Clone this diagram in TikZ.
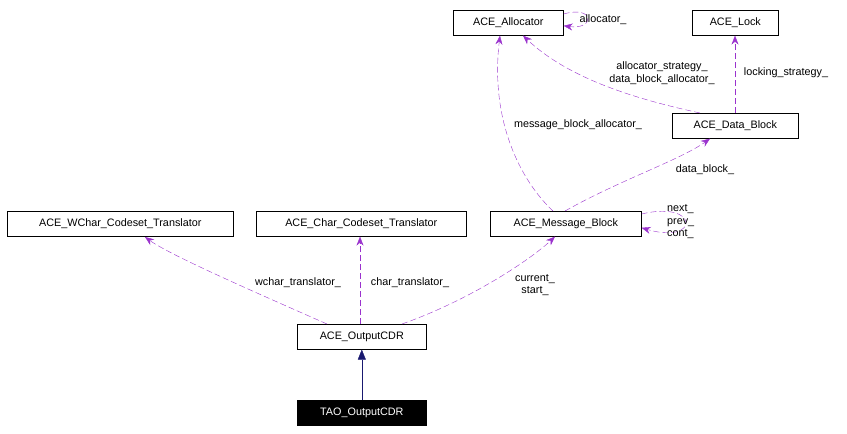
\documentclass[tikz,border=0pt]{standalone}
\usepackage{fontspec}
\setmainfont{Liberation Sans}
\usetikzlibrary{arrows.meta}
\begin{document}
\begin{tikzpicture}[x=1pt,y=-1pt,font=\fontsize{10.8}{12.5}\selectfont,
  box/.style={draw,semithick,minimum height=25pt,inner sep=0pt,anchor=north west},
  use/.style={draw={rgb,255:red,154;green,50;blue,205},dash pattern=on 6pt off 3pt,-{Stealth[length=9pt,width=7pt]},thin},
  inh/.style={draw={rgb,255:red,25;green,25;blue,112},-{Triangle[length=10pt,width=8pt,fill={rgb,255:red,25;green,25;blue,112}]}},
  lab/.style={inner sep=0pt,align=center}]
\useasboundingbox (0,0) rectangle (847,434);
\node[box,minimum width=110pt] (alloc) at (453,10) {ACE\_Allocator};
\node[box,minimum width=86pt] (lock) at (692,10) {ACE\_Lock};
\node[box,minimum width=126pt] (db) at (672,113) {ACE\_Data\_Block};
\node[box,minimum width=226pt] (wc) at (7,211) {ACE\_WChar\_Codeset\_Translator};
\node[box,minimum width=210pt] (cc) at (256,211) {ACE\_Char\_Codeset\_Translator};
\node[box,minimum width=151pt] (mb) at (490,211) {ACE\_Message\_Block};
\node[box,minimum width=129pt] (oc) at (297,324) {ACE\_OutputCDR};
\node[box,minimum width=129pt,fill=black,text=white] (tao) at (297,400) {TAO\_OutputCDR};

\draw[inh] (tao) -- (oc);
\draw[use] (oc.north west) ++(30,0) coordinate (a1) .. controls (250,290) and (170,255) .. (145,237);
\draw[use] ([xshift=63pt]oc.north west) -- ([xshift=104pt]cc.south west);
\draw[use] ([xshift=105pt]oc.north west) .. controls (470,300) and (530,260) .. ([xshift=65pt]mb.south west);
\draw[use] (mb.north east) ++(0,3) coordinate (s1) .. controls (700,200) and (700,245) .. ([yshift=-4pt]mb.east);
\draw[use] ([xshift=75pt]mb.north west) .. controls (620,180) and (680,160) .. ([xshift=38pt]db.south west);
\draw[use] ([xshift=63pt]mb.north west) .. controls (520,180) and (490,120) .. ([xshift=47pt]alloc.south west);
\draw[use] ([xshift=28pt]db.north west) .. controls (640,100) and (570,80) .. ([xshift=70pt]alloc.south west);
\draw[use] ([xshift=63pt]db.north west) -- ([xshift=43pt]lock.south west);
\draw[use] (alloc.north east) ++(0,4) .. controls (595,5) and (595,30) .. ([yshift=-3pt]alloc.east);

\node[lab] at (298,283) {wchar\_translator\_};
\node[lab] at (410,283) {char\_translator\_};
\node[lab] at (535,285) {current\_\\start\_};
\node[lab,align=left,anchor=west] at (667,222) {next\_\\prev\_\\cont\_};
\node[lab] at (705,170) {data\_block\_};
\node[lab] at (578,125) {message\_block\_allocator\_};
\node[lab] at (662,73) {allocator\_strategy\_\\data\_block\_allocator\_};
\node[lab] at (786,73) {locking\_strategy\_};
\node[lab] at (603,20) {allocator\_};
\end{tikzpicture}
\end{document}
